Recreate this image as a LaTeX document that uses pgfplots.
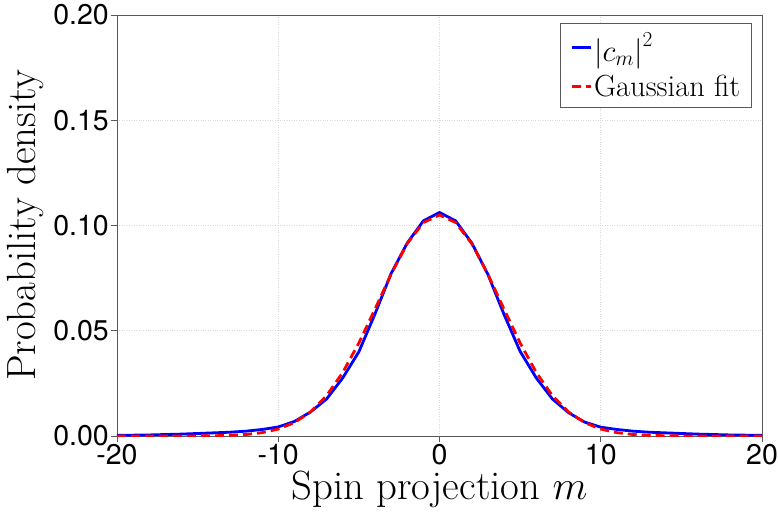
\documentclass[border=0pt]{standalone}
\usepackage{fix-cm}
\usepackage{fontspec}
\usepackage{pgfplots}
\pgfplotsset{compat=1.18}
\newfontfamily\heros{TeX Gyre Heros}
\definecolor{framegray}{gray}{0.35}
\definecolor{gridgray}{gray}{0.85}
\begin{document}
\begin{tikzpicture}
\begin{axis}[
  at={(0,0)}, anchor=south west,
  scale only axis,
  width=645bp, height=421bp,
  xmin=-20, xmax=20, ymin=0, ymax=0.2,
  xtick={-20,-10,0,10,20},
  xticklabels={-20,-10,0,10,20},
  ytick={0,0.05,0.1,0.15,0.2},
  yticklabels={0.00,0.05,0.10,0.15,0.20},
  tick label style={font=\fontsize{28.5bp}{30bp}\selectfont\heros, inner sep=2bp},
  xtick pos=left, ytick pos=left,
  tick align=outside,
  major tick length=6bp,
  axis line style={framegray, line width=0.8bp},
  every tick/.style={framegray, line width=0.8bp},
  grid=major,
  major grid style={gridgray, dotted, line width=0.7bp},
  xlabel={Spin projection $m$},
  ylabel={Probability density},
  xlabel style={font=\fontsize{40.8bp}{42bp}\selectfont, at={(axis description cs:0.5,-0.152)}, anchor=base, inner sep=0pt},
  ylabel style={font=\fontsize{40.8bp}{42bp}\selectfont, at={(axis description cs:-0.1271,0.501)}, rotate=0, anchor=base, inner sep=0pt},
  legend style={at={(axis description cs:0.9845,0.981)}, anchor=north east,
    font=\fontsize{30.5bp}{32bp}\selectfont, draw=framegray, line width=0.8bp,
    inner xsep=10bp, inner ysep=8bp, row sep=9bp,
    nodes={inner sep=1.5bp}},
  legend cell align=left,
  legend image code/.code={\draw[#1] (0bp,0bp) -- (19bp,0bp);},
]
\addplot[blue, line width=2.8bp] coordinates {
(-20,0.0003) (-19,0.0004) (-18,0.0005) (-17,0.0007) (-16,0.0009)
(-15,0.0012) (-14,0.0015) (-13,0.0018) (-12,0.0023) (-11,0.0031)
(-10,0.0043) (-9,0.0069) (-8,0.0114) (-7,0.0176) (-6,0.0276)
(-5,0.0400) (-4,0.0580) (-3,0.0772) (-2,0.0917) (-1,0.1022)
(0,0.1062)
(1,0.1022) (2,0.0917) (3,0.0768) (4,0.0578) (5,0.0402)
(6,0.0276) (7,0.0176) (8,0.0111) (9,0.0066) (10,0.0042)
(11,0.0031) (12,0.0023) (13,0.0018) (14,0.0015) (15,0.0012)
(16,0.0009) (17,0.0007) (18,0.0005) (19,0.0004) (20,0.0003)
};
\addlegendentry{$\left|c_m\right|^2$}
\addplot[red, line width=2.8bp, dash pattern=on 9bp off 5bp] coordinates {
(-20,0) (-19,0) (-18,0) (-17,0.00001) (-16,0.00002)
(-15,0.00004) (-14,0.00012) (-13,0.00030) (-12,0.00072) (-11,0.00159)
(-10,0.00329) (-9,0.00635) (-8,0.0114) (-7,0.0192) (-6,0.0302)
(-5,0.0442) (-4,0.0603) (-3,0.0769) (-2,0.0914) (-1,0.1014)
(0,0.1050)
(1,0.1014) (2,0.0914) (3,0.0769) (4,0.0603) (5,0.0442)
(6,0.0302) (7,0.0192) (8,0.0114) (9,0.00635) (10,0.00329)
(11,0.00159) (12,0.00072) (13,0.00030) (14,0.00012) (15,0.00004)
(16,0.00002) (17,0.00001) (18,0) (19,0) (20,0)
};
\addlegendentry{Gaussian fit}
\end{axis}
\pgfresetboundingbox
\useasboundingbox (-117bp,-77bp) rectangle (661bp,436bp);
\end{tikzpicture}
\end{document}
